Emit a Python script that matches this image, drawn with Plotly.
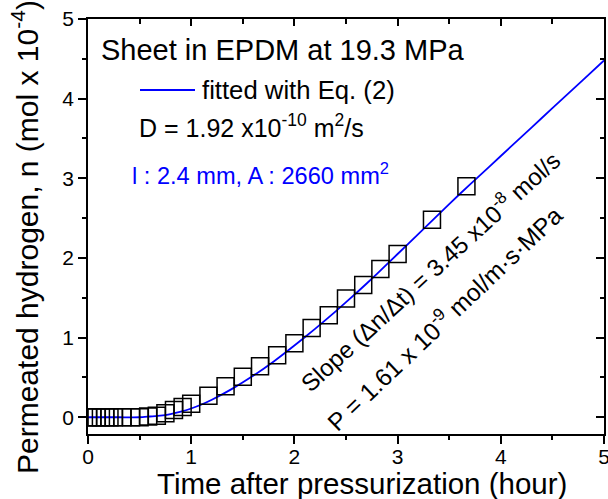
import plotly.graph_objects as go

# ---- data ----
t_data = [0, 0.042, 0.083, 0.125, 0.167, 0.208, 0.25, 0.333, 0.417, 0.5, 0.583, 0.667,
          0.75, 0.833, 0.917, 1.0, 1.167, 1.333, 1.5, 1.667, 1.833, 2.0, 2.167, 2.333,
          2.5, 2.667, 2.833, 3.0, 3.333, 3.667]
n_data = [0, 0, 0, 0, 0, 0, 0, 0.0, 0.0, 0.0, 0.01, 0.02,
          0.05, 0.09, 0.13, 0.17, 0.27, 0.39, 0.51, 0.64, 0.78, 0.93, 1.12, 1.28,
          1.49, 1.66, 1.86, 2.05, 2.48, 2.90]

fit_t = [0, 0.3, 0.5, 0.6, 0.7, 0.8, 0.9, 1.0, 1.1, 1.2, 1.4, 1.6, 1.8, 2.0, 2.2, 2.4,
         2.6, 2.8, 3.0, 3.2, 3.4, 3.6, 3.8, 4.0, 4.2, 4.4, 4.6, 4.8, 5.0]
fit_n = [0, 0, 0.0, 0.01, 0.02, 0.04, 0.07, 0.11, 0.16, 0.22, 0.36, 0.52, 0.70, 0.90,
         1.11, 1.33, 1.56, 1.80, 2.05, 2.30, 2.55, 2.80, 3.04, 3.28, 3.52, 3.76, 4.00,
         4.24, 4.48]

x_ticks = [0, 1, 2, 3, 4, 5]
y_ticks = [0, 1, 2, 3, 4, 5]

FONT = "Arial, Liberation Sans, sans-serif"
W, H = 608, 499
L, R, T, B = 88, 604, 19, 434  # plot area in pixels


def px(x):
    return (x - L) / (R - L)


def py(y):
    return (B - y) / (B - T)


fig = go.Figure()
fig.add_trace(go.Scatter(x=fit_t, y=fit_n, mode="lines",
                         line=dict(color="#0000FF", width=1.8, shape="spline", smoothing=0.6),
                         showlegend=False))
fig.add_trace(go.Scatter(x=t_data, y=n_data, mode="markers",
                         marker=dict(symbol="square-open", size=17,
                                     color="black", line=dict(width=1.5, color="black")),
                         showlegend=False))
# invisible trace so the mirrored (inside-tick) axes are drawn
fig.add_trace(go.Scatter(x=[0], y=[0], xaxis="x2", yaxis="y2", mode="markers",
                         marker=dict(opacity=0), showlegend=False, hoverinfo="skip"))

axis_common = dict(showgrid=False, zeroline=False, showline=True, linecolor="black",
                   linewidth=1.5, ticks="outside", ticklen=8, tickwidth=1.5,
                   tickcolor="black", automargin=False, ticklabeloverflow="allow",
                   tickfont=dict(family=FONT, size=21, color="black"))

fig.update_layout(
    width=W, height=H,
    margin=dict(l=L, r=W - R, t=T, b=H - B),
    paper_bgcolor="white", plot_bgcolor="white",
    xaxis=dict(range=[0, 5], tickvals=x_ticks, ticklabelstandoff=-5, **axis_common,
               minor=dict(dtick=0.5, ticks="outside", ticklen=4, tickwidth=1.5, tickcolor="black")),
    yaxis=dict(range=[-0.21, 5], tickvals=y_ticks, **axis_common,
               minor=dict(dtick=0.5, ticks="outside", ticklen=4, tickwidth=1.5, tickcolor="black")),
    xaxis2=dict(range=[0, 5], overlaying="x", side="top", anchor="y2", showgrid=False,
                zeroline=False, showline=True, linecolor="black", linewidth=1.5,
                tickvals=x_ticks, ticks="inside", ticklen=7, tickwidth=1.5, tickcolor="black",
                showticklabels=False, automargin=False,
                minor=dict(dtick=0.5, ticks="inside", ticklen=5, tickwidth=1.5, tickcolor="black")),
    yaxis2=dict(range=[-0.21, 5], overlaying="y", side="right", anchor="x2", showgrid=False,
                zeroline=False, showline=True, linecolor="black", linewidth=1.5,
                tickvals=y_ticks, ticks="inside", ticklen=8, tickwidth=1.5, tickcolor="black",
                showticklabels=False, automargin=False,
                minor=dict(dtick=0.5, ticks="inside", ticklen=4, tickwidth=1.5, tickcolor="black")),
)

ann = []
# axis titles
ann.append(dict(text="Time after pressurization (hour)", x=px(362), y=py(483),
                xref="paper", yref="paper", xanchor="center", yanchor="middle",
                showarrow=False, font=dict(family=FONT, size=29.5, color="black")))
ann.append(dict(text="Permeated hydrogen, n (mol x 10<sup>-4</sup>)", x=px(25), y=py(237),
                xref="paper", yref="paper", xanchor="center", yanchor="middle",
                textangle=-90, showarrow=False, font=dict(family=FONT, size=30, color="black")))
# text block
ann.append(dict(text="Sheet in EPDM at 19.3 MPa", x=px(99), y=py(50), xref="paper", yref="paper",
                xanchor="left", yanchor="middle", showarrow=False,
                font=dict(family=FONT, size=29, color="black")))
ann.append(dict(text="fitted with Eq. (2)", x=px(200), y=py(90), xref="paper", yref="paper",
                xanchor="left", yanchor="middle", showarrow=False,
                font=dict(family=FONT, size=25.7, color="black")))
ann.append(dict(text="D = 1.92 x10<sup>-10</sup> m<sup>2</sup>/s", x=px(137), y=py(126),
                xref="paper", yref="paper", xanchor="left", yanchor="middle", showarrow=False,
                font=dict(family=FONT, size=25, color="black")))
ann.append(dict(text="l : 2.4 mm, A : 2660 mm<sup>2</sup>", x=px(130), y=py(174),
                xref="paper", yref="paper", xanchor="left", yanchor="middle", showarrow=False,
                font=dict(family=FONT, size=23.6, color="#0000FF")))
ann.append(dict(text="Slope (\u0394n/\u0394t) = 3.45 x10<sup>-8</sup> mol/s", x=px(429), y=py(271),
                xref="paper", yref="paper", xanchor="center", yanchor="middle",
                textangle=-42.5, showarrow=False, font=dict(family=FONT, size=24, color="black")))
ann.append(dict(text="P = 1.61 x 10<sup>-9</sup> mol/m\u00b7s\u00b7MPa", x=px(443), y=py(317),
                xref="paper", yref="paper", xanchor="center", yanchor="middle",
                textangle=-43.5, showarrow=False, font=dict(family=FONT, size=24.5, color="black")))
fig.update_layout(annotations=ann)

# legend sample line for the fitted curve
fig.add_shape(type="line", xref="paper", yref="paper", x0=px(140), x1=px(195),
              y0=py(90), y1=py(90), line=dict(color="#0000FF", width=1.8))

fig.write_html("out.html", config={"displayModeBar": False},
               post_script="document.body.style.margin='0';document.body.style.padding='0';")
